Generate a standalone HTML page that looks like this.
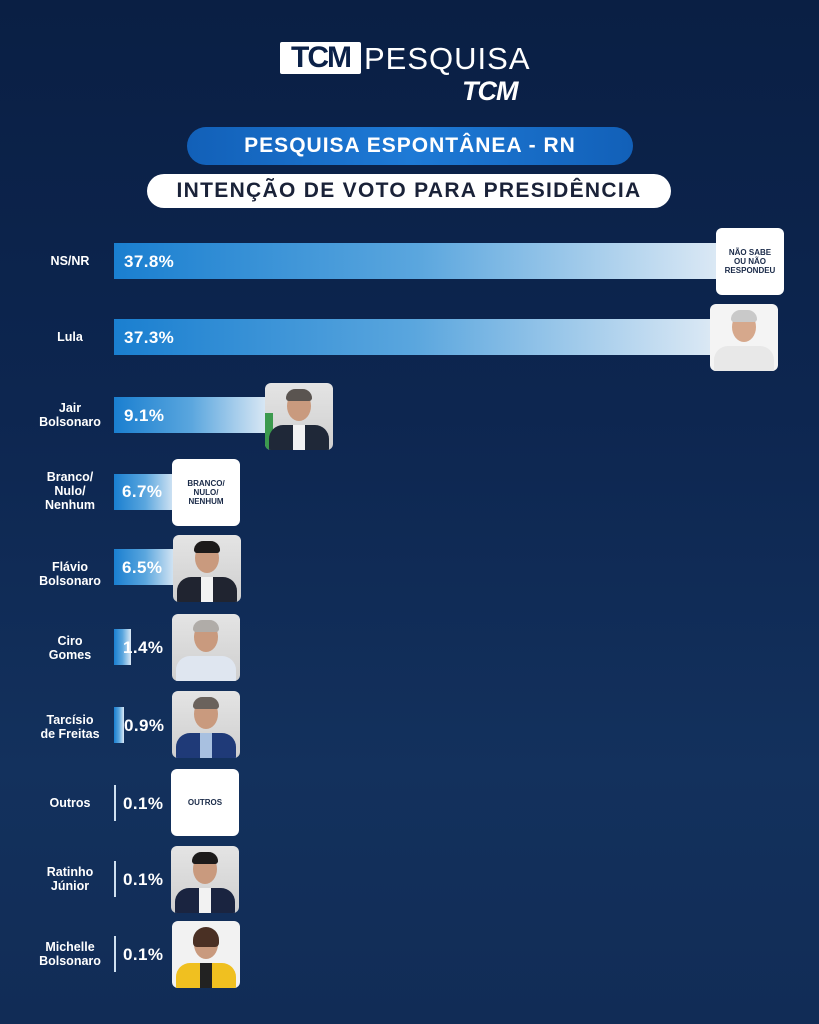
<!DOCTYPE html>
<html><head><meta charset="utf-8">
<style>
*{margin:0;padding:0;box-sizing:border-box}
body{width:819px;height:1024px;overflow:hidden;position:relative;
background:linear-gradient(180deg,#0a1f44 0%,#0d2650 40%,#13315d 75%,#112c56 100%);
font-family:"Liberation Sans",sans-serif;color:#fff}
.a{position:absolute}
.lbl{position:absolute;width:110px;left:15px;text-align:center;font-weight:bold;font-size:12.5px;line-height:14px;color:#fff}
.bar{position:absolute;left:114px;height:36px;background:linear-gradient(90deg,#1a7fd0 0%,#5aa6de 50%,#dce9f5 100%)}
.pct{position:absolute;font-weight:bold;font-size:17px;letter-spacing:0.4px;color:#fff;line-height:18px}
.box{position:absolute;width:68px;height:67px;border-radius:6px;background:#fff;overflow:hidden;
display:flex;align-items:center;justify-content:center;text-align:center;font-weight:bold;font-size:8px;line-height:9px;color:#1a2a48}
.ph{background:linear-gradient(180deg,#e4e4e4,#cfcfcf)}
.head{position:absolute;left:22px;top:8px;width:24px;height:30px;border-radius:50%;background:#c99a7e}
.hair{position:absolute;left:21px;top:6px;width:26px;height:12px;border-radius:13px 13px 4px 4px;background:#3a3230}
.suit{position:absolute;left:4px;top:42px;width:60px;height:30px;border-radius:14px 14px 0 0;background:#1f2838}
.shirt{position:absolute;left:28px;top:42px;width:12px;height:25px;background:#f2f2f2}
</style></head><body>

<div class="a" style="left:280px;top:42px;width:81px;height:32px;background:#fff;border-radius:2px;color:#0b2148;font-weight:bold;font-size:30px;line-height:32px;text-align:center;letter-spacing:-2px">TCM</div>
<div class="a" style="left:364px;top:41px;font-size:31px;line-height:36px;color:#fff;letter-spacing:1px">PESQUISA</div>
<div class="a" style="left:462px;top:77px;font-size:27px;font-weight:bold;font-style:italic;line-height:28px;letter-spacing:-1px">TCM</div>

<div class="a" style="left:187px;top:127px;width:446px;height:38px;border-radius:19px;background:linear-gradient(90deg,#1260b8,#1e7ad6,#1260b8);text-align:center;font-weight:bold;font-size:21px;letter-spacing:1px;line-height:38px">PESQUISA ESPONTÂNEA - RN</div>
<div class="a" style="left:147px;top:174px;width:524px;height:34px;border-radius:17px;background:#fff;text-align:center;font-weight:bold;font-size:21px;letter-spacing:1.3px;line-height:34px;color:#1a2238">INTENÇÃO DE VOTO PARA PRESIDÊNCIA</div>

<div class="lbl" style="top:254px">NS/NR</div>
<div class="bar" style="top:243px;width:606px"></div>
<div class="pct" style="left:124px;top:253px">37.8%</div>
<div class="box" style="left:716px;top:228px">NÃO SABE<br>OU NÃO<br>RESPONDEU</div>

<div class="lbl" style="top:330px">Lula</div>
<div class="bar" style="top:319px;width:600px"></div>
<div class="pct" style="left:124px;top:329px">37.3%</div>
<div class="box ph" style="left:710px;top:304px;background:#f4f4f4"><div class="head" style="background:#d6a88c"></div><div class="hair" style="background:#c9c9c9"></div><div class="suit" style="background:#e8e8e8"></div></div>

<div class="lbl" style="top:401px">Jair<br>Bolsonaro</div>
<div class="bar" style="top:397px;width:154px"></div>
<div class="pct" style="left:124px;top:407px">9.1%</div>
<div class="box ph" style="left:265px;top:383px"><div class="a" style="left:0;top:30px;width:8px;height:37px;background:#3c9a4e"></div><div class="head"></div><div class="hair" style="background:#5a5450"></div><div class="suit"></div><div class="shirt"></div></div>

<div class="lbl" style="top:470px">Branco/<br>Nulo/<br>Nenhum</div>
<div class="bar" style="top:474px;width:62px"></div>
<div class="pct" style="left:122px;top:483px">6.7%</div>
<div class="box" style="left:172px;top:459px">BRANCO/<br>NULO/<br>NENHUM</div>

<div class="lbl" style="top:560px">Flávio<br>Bolsonaro</div>
<div class="bar" style="top:549px;width:62px"></div>
<div class="pct" style="left:122px;top:559px">6.5%</div>
<div class="box ph" style="left:173px;top:535px"><div class="head"></div><div class="hair" style="background:#1c1a1a"></div><div class="suit" style="background:#202430"></div><div class="shirt"></div></div>

<div class="lbl" style="top:634px">Ciro<br>Gomes</div>
<div class="bar" style="top:629px;width:17px"></div>
<div class="pct" style="left:123px;top:639px">1.4%</div>
<div class="box ph" style="left:172px;top:614px"><div class="head"></div><div class="hair" style="background:#b0aca8"></div><div class="suit" style="background:#dfe6f0"></div></div>

<div class="lbl" style="top:713px">Tarcísio<br>de Freitas</div>
<div class="bar" style="top:707px;width:10px"></div>
<div class="pct" style="left:124px;top:717px">0.9%</div>
<div class="box ph" style="left:172px;top:691px"><div class="head"></div><div class="hair" style="background:#6a625c"></div><div class="suit" style="background:#1f3a78"></div><div class="shirt" style="background:#a8c0e0"></div></div>

<div class="lbl" style="top:796px">Outros</div>
<div class="bar" style="top:785px;width:2px;background:#cfe0f0"></div>
<div class="pct" style="left:123px;top:795px">0.1%</div>
<div class="box" style="left:171px;top:769px">OUTROS</div>

<div class="lbl" style="top:865px">Ratinho<br>Júnior</div>
<div class="bar" style="top:861px;width:2px;background:#cfe0f0"></div>
<div class="pct" style="left:123px;top:871px">0.1%</div>
<div class="box ph" style="left:171px;top:846px"><div class="head"></div><div class="hair" style="background:#1c1a1a"></div><div class="suit" style="background:#1a2440"></div><div class="shirt"></div></div>

<div class="lbl" style="top:940px">Michelle<br>Bolsonaro</div>
<div class="bar" style="top:936px;width:2px;background:#cfe0f0"></div>
<div class="pct" style="left:123px;top:946px">0.1%</div>
<div class="box ph" style="left:172px;top:921px;background:#f2f2f2"><div class="head"></div><div class="hair" style="background:#4a3024;height:20px"></div><div class="suit" style="background:#f0c020"></div><div class="shirt" style="background:#222"></div></div>

</body></html>
